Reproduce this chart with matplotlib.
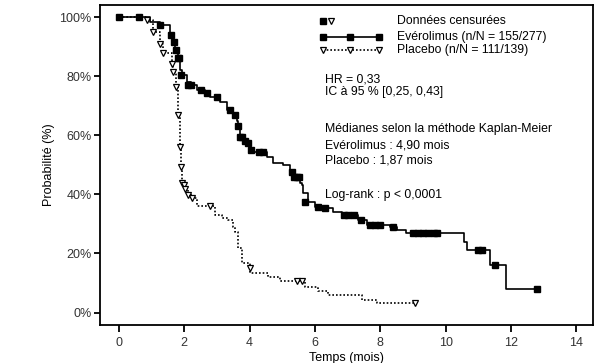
import matplotlib
matplotlib.use("Agg")
import matplotlib.pyplot as plt
from matplotlib.lines import Line2D

plt.rcParams['font.family'] = ['Liberation Sans', 'DejaVu Sans']

# Everolimus KM step points (time in months, survival %)
evero_t = [0, 0.95, 1.25, 1.56, 1.65, 1.71, 1.81, 1.87, 1.93, 2.08, 2.2, 2.39, 2.63, 2.79,
           3.09, 3.31, 3.49, 3.6, 3.65, 3.7, 3.8, 3.92, 4.0, 4.1, 4.53, 4.71, 5.02, 5.23,
           5.39, 5.54, 5.6, 5.63, 5.79, 6.0, 6.24, 6.55, 6.83, 7.32, 7.59, 8.3, 8.5, 8.8,
           10.57, 10.64, 11.36, 11.85, 12.79]
evero_s = [100, 98.4, 97.3, 94, 91.6, 88.9, 86, 82, 80.4, 78, 77, 75.4, 74.3, 73,
           71.3, 68.6, 67, 65, 63, 59.5, 58, 57.4, 55, 54.4, 52.7, 50.6, 50, 47.6,
           46, 44, 43.2, 40.5, 37.3, 35.8, 35.4, 34, 33, 31.4, 29.7, 29, 28, 27,
           24, 21.2, 16.1, 7.9, 7.9]
evero_cens_t = [0, 0.6, 1.25, 1.6, 1.68, 1.75, 1.8, 1.84, 1.9, 2.1, 2.2, 2.5, 2.7, 3.0,
                3.4, 3.55, 3.65, 3.72, 3.78, 3.85, 3.95, 4.05, 4.3, 4.4, 5.3, 5.37, 5.45,
                5.5, 5.7, 6.1, 6.3, 6.9, 7.0, 7.2, 7.4, 7.7, 7.85, 8.0, 8.4, 9.0, 9.15,
                9.3, 9.45, 9.65, 9.75, 11.0, 11.1, 11.5, 12.79]
evero_cens_s = [100, 100, 97.3, 94, 91.6, 88.9, 86, 86, 80.4, 77, 77, 75.4, 74.3, 73,
                68.6, 67, 63, 59.5, 59.5, 58, 57.4, 55, 54.4, 54.4, 47.6, 46, 46,
                46, 37.3, 35.8, 35.4, 33, 33, 33, 31.4, 29.7, 29.7, 29.7, 29, 27, 27,
                27, 27, 27, 27, 21.2, 21.2, 16.1, 7.9]

# Placebo KM step points
pla_t = [0, 0.86, 1.04, 1.25, 1.35, 1.62, 1.65, 1.74, 1.81, 1.87, 1.9, 1.93, 1.96, 2.02,
         2.11, 2.23, 2.39, 2.94, 3.15, 3.34, 3.49, 3.55, 3.64, 3.76, 4.01, 4.56, 4.93,
         5.69, 6.09, 6.40, 7.44, 7.90, 9.06]
pla_s = [100, 99, 95, 91, 88, 84, 81.5, 76.4, 67, 56, 49.4, 45, 43.2, 41.8,
         39.8, 38.8, 36.1, 33, 32, 31.4, 29, 27.3, 22, 16.8, 13.3, 12.2, 10.8,
         8.8, 7.4, 6, 4.3, 3.2, 3.2]
pla_cens_t = [0.86, 1.04, 1.25, 1.35, 1.62, 1.65, 1.74, 1.81, 1.87, 1.9, 1.93, 1.98, 2.02,
              2.11, 2.23, 2.79, 4.01, 5.45, 5.6, 9.06]
pla_cens_s = [99, 95, 91, 88, 84, 81.5, 76.4, 67, 56, 49.4, 43.9, 43.2, 41.8,
              39.8, 38.8, 36.1, 15, 10.8, 10.8, 3.2]

x_ticks = [0, 2, 4, 6, 8, 10, 12, 14]
y_ticks = [0, 20, 40, 60, 80, 100]
y_tick_labels = ['0%', '20%', '40%', '60%', '80%', '100%']

fig = plt.figure(figsize=(6.03, 3.63), dpi=100)
ax = fig.add_axes([0.1658, 0.1047, 0.8176, 0.8815])

ax.step(evero_t, evero_s, where='post', color='black', lw=1.2)
ax.plot(evero_cens_t, evero_cens_s, linestyle='none', marker='s', ms=4.3,
        color='black', mec='black')
ax.step(pla_t, pla_s, where='post', color='black', lw=1.2, linestyle=(0, (1, 1.2)))
ax.plot(pla_cens_t, pla_cens_s, linestyle='none', marker='v', ms=5,
        mfc='white', mec='black', mew=0.9)

ax.set_xlim(-0.58, 14.51)
ax.set_ylim(-4.2, 104.1)
ax.set_xticks(x_ticks)
ax.set_yticks(y_ticks)
ax.set_yticklabels(y_tick_labels)
for s in ax.spines.values():
    s.set_linewidth(1.3)
ax.tick_params(axis='x', length=5, width=1.3, labelsize=9, labelcolor='#333333', pad=4)
ax.tick_params(axis='y', length=4, width=1.3, labelsize=9, labelcolor='#333333', pad=2)
ax.set_ylabel('Probabilité (%)', fontsize=9, labelpad=3)
ax.set_xlabel('Temps (mois)', fontsize=9, labelpad=2)

# legend-like annotation block
fs = 8.8
ax.add_line(Line2D([0.452], [0.9495], transform=ax.transAxes, marker='s', ms=4.3,
                   color='black', linestyle='none'))
ax.add_line(Line2D([0.468], [0.9495], transform=ax.transAxes, marker='v', ms=5,
                   mfc='white', mec='black', mew=0.9, linestyle='none'))
ax.add_line(Line2D([0.452, 0.507, 0.565], [0.901, 0.901, 0.901], transform=ax.transAxes,
                   marker='s', ms=4.3, color='black', lw=1.2))
ax.add_line(Line2D([0.452, 0.507, 0.565], [0.860, 0.860, 0.860], transform=ax.transAxes,
                   marker='v', ms=5, mfc='white', mec='black', mew=0.9, color='black',
                   lw=1.2, linestyle=(0, (1, 1.2))))
ax.text(0.602, 0.9495, 'Données censurées', transform=ax.transAxes, fontsize=fs, va='center')
ax.text(0.602, 0.901, 'Evérolimus (n/N = 155/277)', transform=ax.transAxes, fontsize=fs, va='center')
ax.text(0.602, 0.860, 'Placebo (n/N = 111/139)', transform=ax.transAxes, fontsize=fs, va='center')
ax.text(0.456, 0.766, 'HR = 0,33', transform=ax.transAxes, fontsize=fs, va='center')
ax.text(0.456, 0.727, 'IC à 95 % [0,25, 0,43]', transform=ax.transAxes, fontsize=fs, va='center')
ax.text(0.456, 0.612, 'Médianes selon la méthode Kaplan-Meier', transform=ax.transAxes, fontsize=fs, va='center')
ax.text(0.456, 0.560, 'Evérolimus : 4,90 mois', transform=ax.transAxes, fontsize=fs, va='center')
ax.text(0.456, 0.513, 'Placebo : 1,87 mois', transform=ax.transAxes, fontsize=fs, va='center')
ax.text(0.456, 0.406, 'Log-rank : p < 0,0001', transform=ax.transAxes, fontsize=fs, va='center')

fig.savefig('out.png', dpi=100)
